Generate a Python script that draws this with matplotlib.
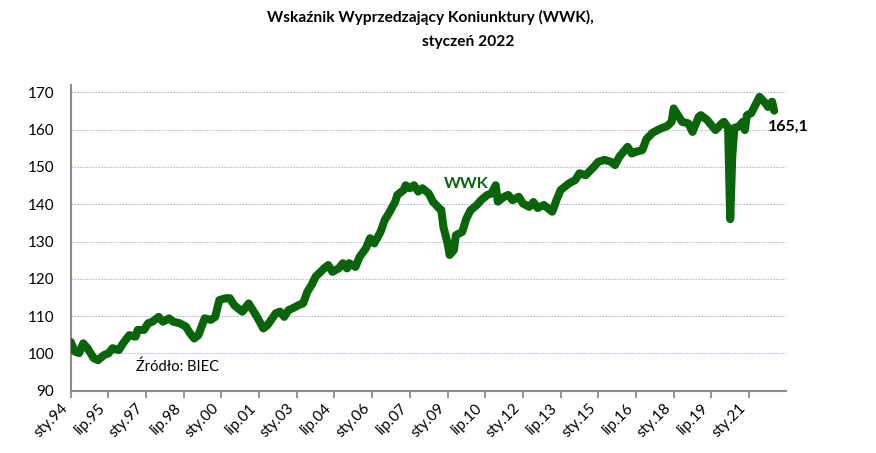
import matplotlib
matplotlib.use("Agg")
import matplotlib.pyplot as plt

plt.rcParams['font.family'] = ['Lato', 'DejaVu Sans']

# month offsets from Jan 1994 and WWK values
months = [0, 2, 4, 6, 8, 11, 13, 16, 18, 20, 23, 25, 28, 31, 32, 35, 37, 39, 42, 44,
          47, 49, 52, 55, 57, 59, 61, 64, 67, 69, 71, 74, 76, 78, 81, 82, 85, 86, 89, 92,
          94, 98, 100, 102, 104, 106, 109, 111, 113, 115, 117, 121, 123, 125, 128, 130, 132, 133, 136, 138,
          141, 143, 145, 148, 150, 152, 155, 156, 159, 160, 162, 164, 166, 168, 171, 173, 176, 177, 178, 180,
          181, 183, 184, 187, 189, 191, 194, 196, 199, 201, 203, 204, 207, 209, 211, 214, 216, 219, 221, 223,
          226, 230, 232, 234, 238, 241, 243, 246, 250, 252, 255, 258, 260, 262, 266, 268, 270, 273, 275, 278,
          281, 285, 287, 288, 289, 292, 295, 297, 300, 301, 304, 306, 308, 311, 312, 314, 315, 316, 317, 319,
          321, 322, 323, 325, 327, 329, 332, 333, 335, 336]
values = [103.1, 100.5, 100.1, 102.7, 101.4, 98.7, 98.2, 99.6, 100.0, 101.4, 100.9, 102.7, 104.9, 104.5, 106.3, 106.3, 108.1, 108.5, 109.8, 108.5,
          109.4, 108.5, 108.1, 107.2, 105.4, 104.0, 104.9, 109.4, 109.0, 109.8, 114.3, 114.8, 114.8, 113.0, 111.6, 111.2, 113.4, 112.5, 109.8, 106.7,
          107.6, 110.8, 111.2, 109.8, 111.6, 112.1, 113.0, 113.4, 116.5, 118.3, 120.6, 122.8, 123.7, 121.9, 122.8, 124.2, 122.8, 124.2, 123.2, 125.9,
          128.2, 130.9, 129.5, 132.6, 135.8, 137.6, 140.7, 142.5, 143.8, 145.1, 144.3, 145.1, 143.4, 144.3, 142.9, 140.7, 138.9, 138.5, 134.0, 129.5,
          126.4, 127.7, 131.7, 132.6, 136.2, 138.4, 139.8, 141.1, 142.5, 142.9, 145.1, 140.7, 142.0, 142.5, 141.1, 142.0, 140.2, 139.3, 140.6, 139.0,
          139.8, 138.0, 141.1, 143.8, 145.6, 146.5, 148.3, 147.8, 150.1, 151.4, 151.9, 151.4, 150.5, 152.7, 155.4, 153.6, 154.1, 154.5, 157.5, 159.2,
          160.1, 161.0, 162.1, 165.7, 164.8, 162.1, 161.7, 159.4, 163.5, 163.9, 162.6, 161.2, 159.9, 161.7, 162.1, 160.5, 136.0, 153.0, 160.5, 160.8,
          162.1, 159.9, 163.9, 164.4, 166.6, 168.8, 167.0, 166.1, 167.5, 165.1]

tick_months = list(range(0, 325, 18))
tick_labels = ['sty.94', 'lip.95', 'sty.97', 'lip.98', 'sty.00', 'lip.01', 'sty.03', 'lip.04',
               'sty.06', 'lip.07', 'sty.09', 'lip.10', 'sty.12', 'lip.13', 'sty.15', 'lip.16',
               'sty.18', 'lip.19', 'sty.21']
y_ticks = [90, 100, 110, 120, 130, 140, 150, 160, 170]

fig = plt.figure(figsize=(8.76, 4.53), dpi=100)
ax = fig.add_axes([0.0807, 0.1375, 0.8162, 0.675])

green = '#0a650a'
ax.plot(months, values, color=green, lw=5.8, solid_joinstyle='round', solid_capstyle='round', zorder=3)

ax.set_xlim(0, 341.5)
ax.set_ylim(90, 172)
ax.set_yticks(y_ticks)
ax.set_yticklabels([str(v) for v in y_ticks], fontsize=11)
ax.set_xticks(tick_months)
ax.set_xticklabels(tick_labels, rotation=45, ha='right', va='top', fontsize=11)

for v in y_ticks[1:]:
    ax.axhline(v, color='#b4badf', lw=0.8, ls=(0, (1.5, 1.2)), zorder=1)

for s in ['top', 'right']:
    ax.spines[s].set_visible(False)
for s in ['left', 'bottom']:
    ax.spines[s].set_color('#8c8c8c')
    ax.spines[s].set_linewidth(1.5)
ax.tick_params(axis='y', length=0, pad=12)
ax.tick_params(axis='x', length=5, width=1.3, color='#8c8c8c', pad=2)

fig.text(430 / 876, 1 - 17 / 453, 'Wskaźnik Wyprzedzający Koniunktury (WWK),',
         ha='center', va='center', fontsize=11.2, fontweight='bold')
fig.text(468 / 876, 1 - 42 / 453, 'styczeń 2022',
         ha='center', va='center', fontsize=11.2, fontweight='bold')

ax.text(189, 145.4, 'WWK', color=green, fontsize=11.5, fontweight='bold', ha='center', va='center')
ax.text(333, 160.8, '165,1', color='black', fontsize=11.5, fontweight='bold', ha='left', va='center')
ax.text(31, 96.5, 'Źródło: BIEC', color='black', fontsize=10.5, ha='left', va='center')

fig.savefig('out.png', dpi=100)
